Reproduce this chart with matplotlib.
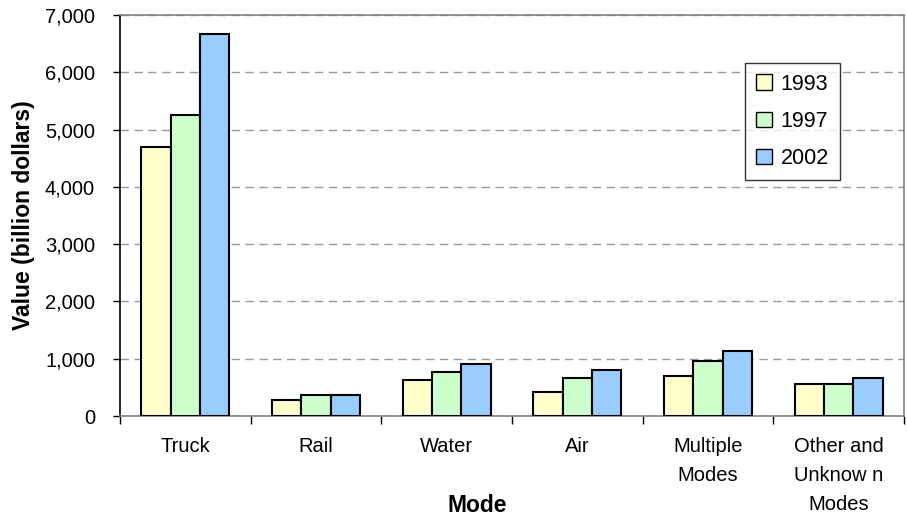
import matplotlib
matplotlib.use("Agg")
import matplotlib.pyplot as plt
import numpy as np
from matplotlib.ticker import FuncFormatter, FixedLocator

plt.rcParams['font.family'] = ['Liberation Sans', 'DejaVu Sans']

# data (billion dollars)
modes = ["Truck", "Rail", "Water", "Air", "Multiple\nModes", "Other and\nUnknow n\nModes"]
years = ["1993", "1997", "2002"]
v1993 = [4690, 278, 620, 414, 691, 550]
v1997 = [5260, 372, 762, 656, 963, 550]
v2002 = [6660, 372, 904, 798, 1140, 656]
colors = ["#FFFFCC", "#CCFFCC", "#99CCFF"]

W, H = 907, 516
fig = plt.figure(figsize=(W / 100, H / 100), dpi=100)
ax = fig.add_axes([120 / W, 1 - 416 / H, (904 - 120) / W, (416 - 15) / H])

x = np.arange(len(modes))
w = 0.225
for i, (vals, c, yr) in enumerate(zip([v1993, v1997, v2002], colors, years)):
    ax.bar(x + (i - 1) * w, vals, w, color=c, edgecolor="black", linewidth=1.5,
           label=yr, zorder=3)

ax.set_xlim(-0.5, len(modes) - 0.5)
ax.set_ylim(0, 7000)
ax.set_yticks(np.arange(0, 7001, 1000))
ax.yaxis.set_major_formatter(FuncFormatter(lambda v, p: f"{int(v):,}"))
ax.yaxis.grid(True, linestyle=(0, (6, 4)), color="#999999", linewidth=1, zorder=0)

ax.set_xticks(x)
ax.set_xticklabels(modes, fontsize=14.5, linespacing=1.68, va="top")
ax.tick_params(axis="x", length=0, pad=15)
ax.xaxis.set_minor_locator(FixedLocator(np.arange(-0.5, len(modes), 1.0)))
ax.tick_params(axis="x", which="minor", length=6, width=1, color="black", direction="out")
ax.tick_params(axis="y", labelsize=14.5, length=5, width=1, pad=13, direction="out")

for s in ["top", "right", "bottom"]:
    ax.spines[s].set_color("#808080")
    ax.spines[s].set_linewidth(1.2)
ax.spines["left"].set_linewidth(1.2)

# axis titles placed in figure pixels to match the reference
fig.text(24 / W, 1 - 215 / H, "Value (billion dollars)", rotation=90,
         ha="center", va="center", fontsize=16.5, fontweight="bold")
fig.text(477 / W, 1 - 512 / H, "Mode", ha="center", va="baseline",
         fontsize=16.5, fontweight="bold")

leg = ax.legend(loc="upper left", bbox_to_anchor=((745 - 120) / 784, (416 - 63) / 401),
                fontsize=15.5, frameon=True, fancybox=False, edgecolor="black",
                handlelength=0.75, handleheight=0.75, handletextpad=0.4,
                labelspacing=0.75, borderpad=0.5, borderaxespad=0)
leg.get_frame().set_linewidth(1)
for h in leg.legend_handles:
    h.set_linewidth(1)

fig.savefig("out.png", dpi=100)
